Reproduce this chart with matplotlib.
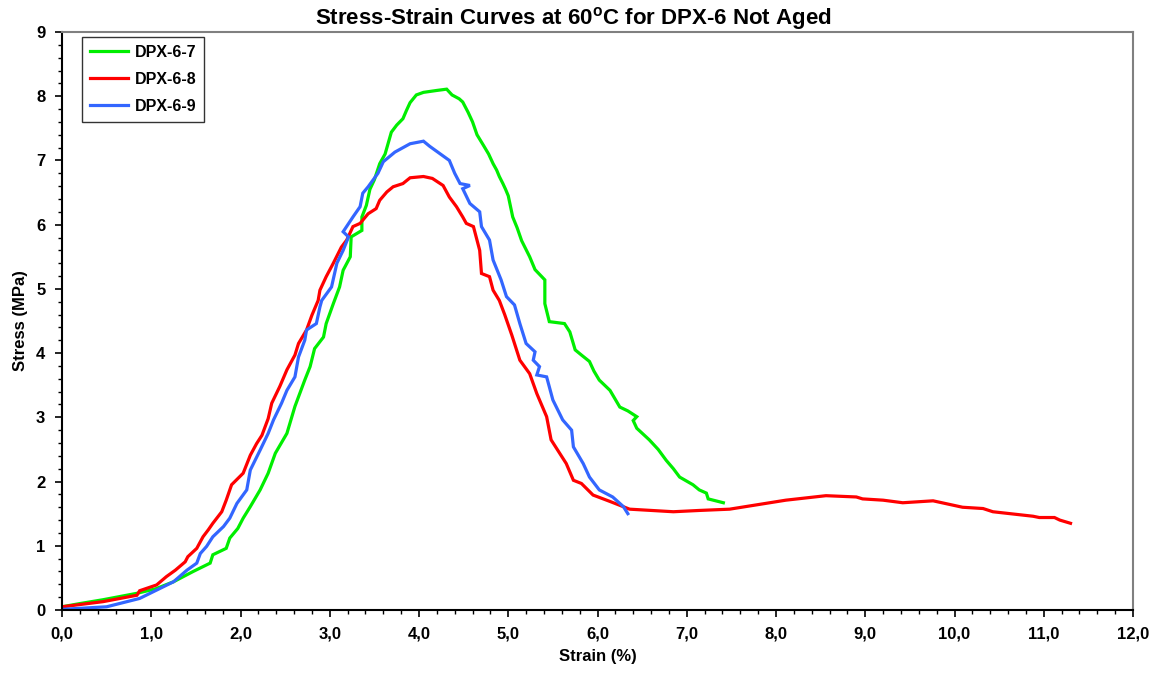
import matplotlib
matplotlib.use("Agg")
import matplotlib.pyplot as plt
from matplotlib.ticker import MultipleLocator

plt.rcParams['font.family'] = ['Liberation Sans', 'DejaVu Sans']
plt.rcParams['mathtext.fontset'] = 'custom'
plt.rcParams['mathtext.rm'] = 'Liberation Sans'
plt.rcParams['mathtext.bf'] = 'Liberation Sans:bold'

# ---- data ----
series_names = ["DPX-6-7", "DPX-6-8", "DPX-6-9"]
series_colors = ["#00EE00", "#FF0000", "#3366FF"]

strain_67 = [0, 0.20, 0.46, 0.84, 1.05, 1.25, 1.47, 1.66, 1.69, 1.84, 1.88, 1.97, 2.03, 2.11, 2.22,
             2.31, 2.39, 2.52, 2.61, 2.72, 2.78, 2.83, 2.93, 2.96, 3.04, 3.11, 3.15, 3.23, 3.24, 3.36,
             3.36, 3.41, 3.45, 3.50, 3.56, 3.62, 3.69, 3.75, 3.82, 3.86, 3.90, 3.97, 4.05, 4.20, 4.31,
             4.37, 4.45, 4.49, 4.55, 4.60, 4.65, 4.72, 4.78, 4.83, 4.87, 4.90, 4.94, 4.97, 5.00, 5.05,
             5.10, 5.15, 5.24, 5.30, 5.41, 5.41, 5.46, 5.63, 5.69, 5.75, 5.82, 5.91, 5.96, 6.02, 6.14,
             6.25, 6.34, 6.44, 6.40, 6.44, 6.58, 6.68, 6.77, 6.85, 6.92, 7.07, 7.14, 7.22, 7.24, 7.41]
stress_67 = [0.05, 0.10, 0.16, 0.26, 0.33, 0.44, 0.60, 0.73, 0.86, 0.96, 1.12, 1.27, 1.43, 1.61, 1.87,
             2.13, 2.44, 2.75, 3.17, 3.58, 3.79, 4.07, 4.25, 4.46, 4.77, 5.03, 5.29, 5.50, 5.81, 5.91,
             6.12, 6.30, 6.55, 6.70, 6.95, 7.10, 7.44, 7.55, 7.65, 7.78, 7.90, 8.02, 8.06, 8.09, 8.11,
             8.02, 7.96, 7.91, 7.75, 7.60, 7.40, 7.24, 7.10, 6.95, 6.85, 6.75, 6.64, 6.55, 6.45, 6.12,
             5.95, 5.75, 5.50, 5.30, 5.14, 4.77, 4.49, 4.46, 4.33, 4.05, 3.97, 3.87, 3.72, 3.58, 3.42,
             3.16, 3.10, 3.01, 2.95, 2.83, 2.65, 2.50, 2.33, 2.20, 2.07, 1.95, 1.87, 1.82, 1.73, 1.67]

strain_68 = [0, 0.46, 0.84, 0.87, 1.06, 1.17, 1.27, 1.38, 1.41, 1.51, 1.58, 1.64, 1.69, 1.79, 1.84,
             1.90, 2.03, 2.11, 2.18, 2.24, 2.31, 2.35, 2.44, 2.52, 2.61, 2.65, 2.74, 2.80, 2.87, 2.89,
             2.96, 3.04, 3.13, 3.19, 3.26, 3.34, 3.43, 3.52, 3.56, 3.64, 3.71, 3.82, 3.90, 4.05, 4.15,
             4.27, 4.34, 4.42, 4.49, 4.53, 4.61, 4.68, 4.70, 4.79, 4.83, 4.90, 4.96, 5.04, 5.13, 5.24,
             5.32, 5.43, 5.48, 5.65, 5.73, 5.82, 5.95, 6.14, 6.36, 6.85, 7.14, 7.48, 7.93, 8.11, 8.56,
             8.90, 8.97, 9.20, 9.42, 9.76, 10.09, 10.32, 10.43, 10.88, 10.95, 11.12, 11.18, 11.30]
stress_68 = [0.05, 0.13, 0.23, 0.30, 0.39, 0.52, 0.62, 0.75, 0.83, 0.96, 1.14, 1.25, 1.35, 1.53, 1.71,
             1.95, 2.13, 2.41, 2.59, 2.72, 2.98, 3.22, 3.48, 3.74, 3.97, 4.15, 4.36, 4.59, 4.82, 4.98,
             5.19, 5.40, 5.65, 5.76, 5.97, 6.02, 6.17, 6.25, 6.38, 6.51, 6.59, 6.64, 6.73, 6.75, 6.72,
             6.61, 6.43, 6.28, 6.12, 6.02, 5.97, 5.60, 5.24, 5.19, 4.98, 4.82, 4.60, 4.28, 3.89, 3.68,
             3.37, 3.01, 2.65, 2.28, 2.02, 1.97, 1.79, 1.69, 1.57, 1.53, 1.55, 1.57, 1.67, 1.71, 1.78,
             1.76, 1.73, 1.71, 1.67, 1.70, 1.60, 1.58, 1.53, 1.46, 1.44, 1.44, 1.40, 1.35]

strain_69 = [0, 0.50, 0.87, 1.06, 1.25, 1.40, 1.51, 1.55, 1.62, 1.69, 1.81, 1.88, 1.96, 2.07, 2.11,
             2.22, 2.31, 2.37, 2.46, 2.52, 2.61, 2.65, 2.72, 2.74, 2.85, 2.89, 2.91, 3.02, 3.08, 3.15,
             3.21, 3.15, 3.26, 3.34, 3.37, 3.43, 3.54, 3.60, 3.73, 3.90, 4.05, 4.12, 4.23, 4.34, 4.40,
             4.46, 4.57, 4.49, 4.57, 4.68, 4.70, 4.79, 4.83, 4.92, 4.98, 5.07, 5.13, 5.20, 5.30, 5.28,
             5.35, 5.32, 5.43, 5.50, 5.61, 5.71, 5.73, 5.84, 5.91, 6.02, 6.17, 6.29, 6.34]
stress_69 = [0.01, 0.05, 0.18, 0.31, 0.44, 0.62, 0.73, 0.88, 0.99, 1.14, 1.30, 1.43, 1.66, 1.87, 2.18,
             2.49, 2.75, 2.96, 3.22, 3.42, 3.63, 3.94, 4.20, 4.36, 4.46, 4.72, 4.82, 5.03, 5.40, 5.60,
             5.81, 5.89, 6.12, 6.28, 6.49, 6.59, 6.80, 6.98, 7.13, 7.26, 7.30, 7.22, 7.11, 7.00, 6.80,
             6.64, 6.61, 6.56, 6.33, 6.20, 5.97, 5.76, 5.45, 5.14, 4.88, 4.75, 4.46, 4.15, 4.02, 3.89,
             3.79, 3.66, 3.63, 3.27, 2.96, 2.80, 2.54, 2.28, 2.07, 1.87, 1.76, 1.61, 1.50]

x_ticks = [0, 1, 2, 3, 4, 5, 6, 7, 8, 9, 10, 11, 12]
x_tick_labels = ["0,0", "1,0", "2,0", "3,0", "4,0", "5,0", "6,0", "7,0", "8,0", "9,0", "10,0", "11,0", "12,0"]
y_ticks = [0, 1, 2, 3, 4, 5, 6, 7, 8, 9]
y_tick_labels = ["0", "1", "2", "3", "4", "5", "6", "7", "8", "9"]

# ---- plot ----
fig = plt.figure(figsize=(11.57, 6.74), dpi=100)
ax = fig.add_axes([62/1157, 1-610/674, (1133-62)/1157, (610-32)/674])

xs = [strain_67, strain_68, strain_69]
ys = [stress_67, stress_68, stress_69]
for x, y, name, c in zip(xs, ys, series_names, series_colors):
    ax.plot(x, y, color=c, lw=2.3, label=name, solid_joinstyle='miter')

ax.set_xlim(0, 12)
ax.set_ylim(0, 9)
ax.set_xticks(x_ticks)
ax.set_xticklabels(x_tick_labels)
ax.set_yticks(y_ticks)
ax.set_yticklabels(y_tick_labels)
ax.xaxis.set_minor_locator(MultipleLocator(0.2))
ax.yaxis.set_minor_locator(MultipleLocator(0.2))
ax.tick_params(which='major', direction='out', length=5, width=1.2, labelsize=12, pad=7)
ax.tick_params(which='minor', direction='out', length=3, width=1.0)
for lab in ax.get_xticklabels() + ax.get_yticklabels():
    lab.set_fontweight('bold')

for s in ['left', 'bottom']:
    ax.spines[s].set_color('black')
    ax.spines[s].set_linewidth(1.5)
for s in ['top', 'right']:
    ax.spines[s].set_color('#808080')
    ax.spines[s].set_linewidth(1.5)

ax.set_xlabel("Strain (%)", fontsize=12, fontweight='bold', labelpad=5)
ax.set_ylabel("Stress (MPa)", fontsize=12, fontweight='bold', labelpad=6)
ax.set_title(r"Stress-Strain Curves at 60$^{\mathbf{o}}$C for DPX-6 Not Aged",
             fontsize=16, fontweight='bold', pad=4, x=0.477)

leg = ax.legend(loc='upper left', bbox_to_anchor=(20/1071, 1-5/578), prop={'weight': 'bold', 'size': 11.5},
                frameon=True, fancybox=False, edgecolor='black', handlelength=2.4,
                labelspacing=0.75, borderpad=0.5, handletextpad=0.4, borderaxespad=0)
leg.get_frame().set_linewidth(1.0)

fig.savefig("out.png", dpi=100)
